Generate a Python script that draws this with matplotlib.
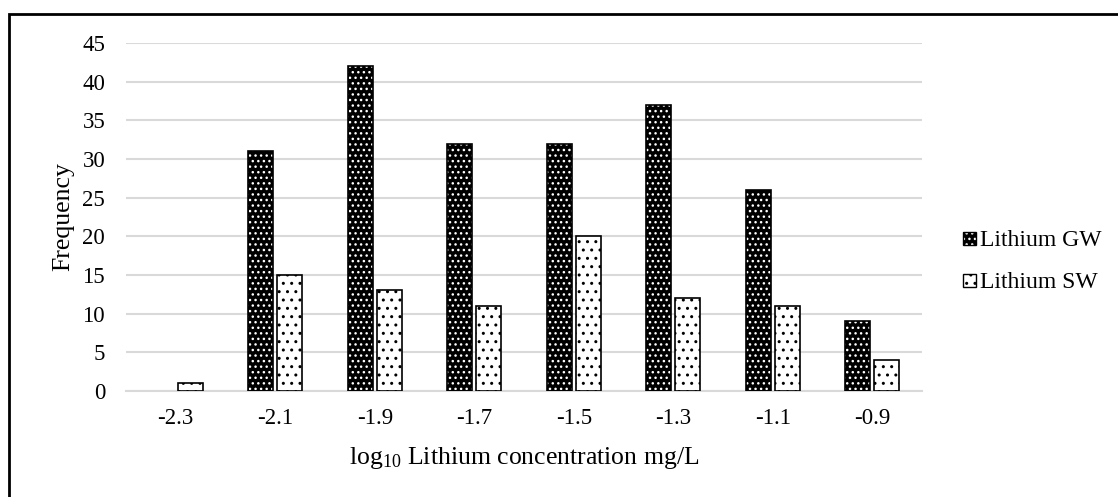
import matplotlib
matplotlib.use("Agg")
import matplotlib.pyplot as plt
import numpy as np
from matplotlib.patches import Rectangle

categories = ["-2.3", "-2.1", "-1.9", "-1.7", "-1.5", "-1.3", "-1.1", "-0.9"]
gw = [0, 31, 42, 32, 32, 37, 26, 9]
sw = [1, 15, 13, 11, 20, 12, 11, 4]
series_labels = ["Lithium GW", "Lithium SW"]

plt.rcParams['font.family'] = ['Liberation Serif', 'DejaVu Serif']
plt.rcParams['mathtext.fontset'] = 'custom'
plt.rcParams['mathtext.rm'] = 'Liberation Serif'
plt.rcParams['mathtext.default'] = 'regular'
plt.rcParams['hatch.linewidth'] = 1.0

W, H = 1118, 497
fig = plt.figure(figsize=(W/100, H/100), dpi=100)
ax = fig.add_axes([126/W, 1-391/H, (922-126)/W, (391-43)/H])

x = np.arange(len(categories))
w = 0.25
off = 0.145
gw_lw = [1.2 if v > 0 else 0 for v in gw]
# GW: black with white dots
ax.bar(x - off, gw, w, facecolor='black', edgecolor='white', hatch='...', linewidth=0, zorder=3)
ax.bar(x - off, gw, w, facecolor='none', edgecolor='black', linewidth=gw_lw, zorder=4)
# SW: white with black dots
ax.bar(x + off, sw, w, facecolor='white', edgecolor='black', hatch='..', linewidth=1.2, zorder=3)

ax.set_xlim(-0.5, len(categories) - 0.5)
ax.set_ylim(0, 45)
ax.set_yticks(range(0, 46, 5))
ax.set_xticks(x)
ax.set_xticklabels(categories)
ax.yaxis.grid(True, color='#d9d9d9', linewidth=1.5, zorder=0)
ax.set_axisbelow(True)
for s in ['top', 'right', 'left']:
    ax.spines[s].set_visible(False)
ax.spines['bottom'].set_color('#d9d9d9')
ax.spines['bottom'].set_linewidth(1.5)
ax.tick_params(axis='both', length=0, labelsize=16.5, colors='black')
ax.tick_params(axis='y', pad=15)
ax.tick_params(axis='x', pad=12.5)
ax.set_ylabel('Frequency', fontsize=18.5, labelpad=6)
ax.set_xlabel(r'log$_{10}$ Lithium concentration mg/L', fontsize=18.5, labelpad=11)

# legend drawn manually (figure pixel coordinates, from top)
leg_styles = [
    dict(facecolor='black', edgecolor='white', hatch='...', linewidth=0),
    dict(facecolor='white', edgecolor='black', hatch='..', linewidth=1.0),
]
baselines = [246, 288]
for lab, st, yb in zip(series_labels, leg_styles, baselines):
    fig.add_artist(Rectangle((963/W, 1-(yb-1)/H), 13/W, 13/H, transform=fig.transFigure, **st))
    if st['linewidth'] == 0:
        fig.add_artist(Rectangle((963/W, 1-(yb-1)/H), 13/W, 13/H, transform=fig.transFigure,
                                 facecolor='none', edgecolor='black', linewidth=1.0))
    fig.text(980/W, 1-yb/H, lab, fontsize=17, va='baseline', ha='left')

fig.add_artist(Rectangle((9/W, -0.2), 1.2, 1.2 - 14/H, transform=fig.transFigure,
                         fill=False, edgecolor='black', linewidth=2))
fig.savefig('out.png', dpi=100)
